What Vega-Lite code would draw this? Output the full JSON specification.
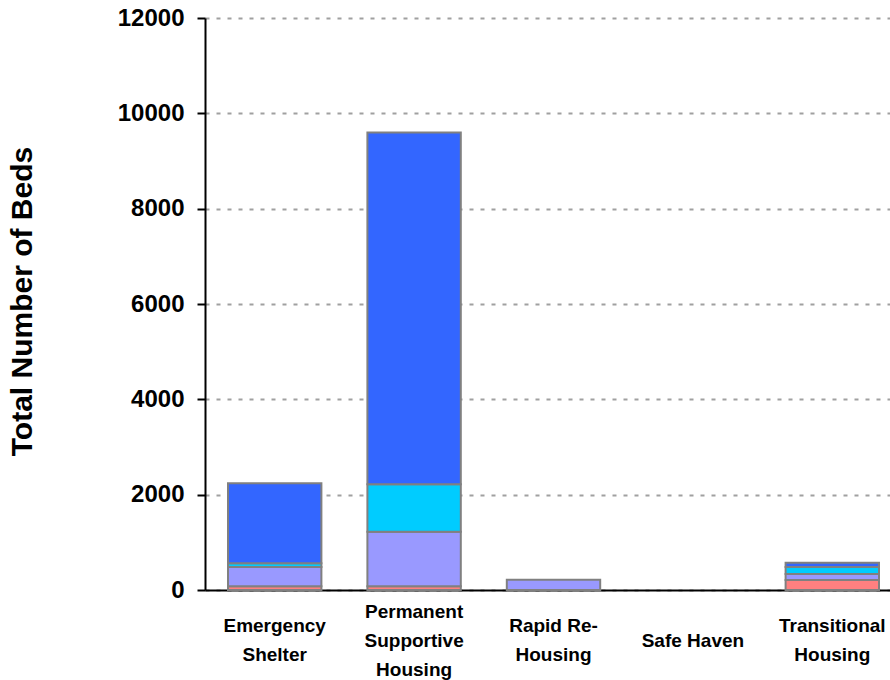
{
  "$schema": "https://vega.github.io/schema/vega-lite/v6.json",
  "autosize": "none",
  "padding": {"left": 205, "top": 18, "right": 0, "bottom": 90},
  "width": 697,
  "height": 572,
  "background": "white",
  "data": {
    "values": [
      {"project": "Emergency Shelter", "series": "Series 1", "ord": 1, "beds": 80},
      {"project": "Emergency Shelter", "series": "Series 2", "ord": 2, "beds": 400},
      {"project": "Emergency Shelter", "series": "Series 3", "ord": 3, "beds": 80},
      {"project": "Emergency Shelter", "series": "Series 4", "ord": 4, "beds": 1680},
      {"project": "Permanent Supportive Housing", "series": "Series 1", "ord": 1, "beds": 80},
      {"project": "Permanent Supportive Housing", "series": "Series 2", "ord": 2, "beds": 1140},
      {"project": "Permanent Supportive Housing", "series": "Series 3", "ord": 3, "beds": 1000},
      {"project": "Permanent Supportive Housing", "series": "Series 4", "ord": 4, "beds": 7380},
      {"project": "Rapid Re-Housing", "series": "Series 2", "ord": 2, "beds": 215},
      {"project": "Transitional Housing", "series": "Series 1", "ord": 1, "beds": 210},
      {"project": "Transitional Housing", "series": "Series 2", "ord": 2, "beds": 125},
      {"project": "Transitional Housing", "series": "Series 3", "ord": 3, "beds": 150},
      {"project": "Transitional Housing", "series": "Series 4", "ord": 4, "beds": 85}
    ]
  },
  "mark": {"type": "bar", "stroke": "#808080", "strokeWidth": 2},
  "encoding": {
    "x": {
      "field": "project",
      "type": "nominal",
      "sort": null,
      "scale": {
        "domain": ["Emergency Shelter", "Permanent Supportive Housing", "Rapid Re-Housing", "Safe Haven", "Transitional Housing"],
        "paddingInner": 0.33,
        "paddingOuter": 0.165
      },
      "axis": {
        "title": null,
        "labelAngle": 0,
        "ticks": false,
        "domainColor": "#000000",
        "domainWidth": 2,
        "labelFont": "Liberation Sans",
        "labelFontWeight": "bold",
        "labelFontSize": 19,
        "labelColor": "#000000",
        "labelBaseline": "middle",
        "labelLineHeight": 29,
        "labelPadding": {"condition": [
          {"test": "datum.value == 'Permanent Supportive Housing'", "value": 21},
          {"test": "datum.value == 'Safe Haven'", "value": 50}
        ], "value": 35},
        "labelOverlap": false,
        "labelLimit": 300,
        "labelExpr": "datum.value == 'Emergency Shelter' ? ['Emergency', 'Shelter'] : datum.value == 'Permanent Supportive Housing' ? ['Permanent', 'Supportive', 'Housing'] : datum.value == 'Rapid Re-Housing' ? ['Rapid Re-', 'Housing'] : datum.value == 'Transitional Housing' ? ['Transitional', 'Housing'] : datum.value"
      }
    },
    "y": {
      "field": "beds",
      "type": "quantitative",
      "stack": "zero",
      "scale": {"domain": [0, 12000], "nice": false},
      "axis": {
        "title": "Total Number of Beds",
        "titleFont": "Liberation Sans",
        "titleFontWeight": "bold",
        "titleFontSize": 30,
        "titleColor": "#000000",
        "titleAngle": -90,
        "titleX": -183,
        "titleY": 283,
        "titleAlign": "center",
        "titleBaseline": "middle",
        "values": [0, 2000, 4000, 6000, 8000, 10000, 12000],
        "format": "d",
        "labelFont": "Liberation Sans",
        "labelFontWeight": "bold",
        "labelFontSize": 24,
        "labelColor": "#000000",
        "labelPadding": 13,
        "tickSize": 8,
        "tickColor": "#000000",
        "tickWidth": 2,
        "domainColor": "#000000",
        "domainWidth": 2,
        "grid": true,
        "gridColor": "#a0a0a0",
        "gridDash": [4, 7],
        "gridWidth": 2
      }
    },
    "color": {
      "field": "series",
      "type": "nominal",
      "scale": {
        "domain": ["Series 1", "Series 2", "Series 3", "Series 4"],
        "range": ["#FF8080", "#9999FF", "#00CCFF", "#3366FF"]
      },
      "legend": null
    },
    "order": {"field": "ord", "type": "quantitative"}
  },
  "config": {"view": {"stroke": null}}
}
